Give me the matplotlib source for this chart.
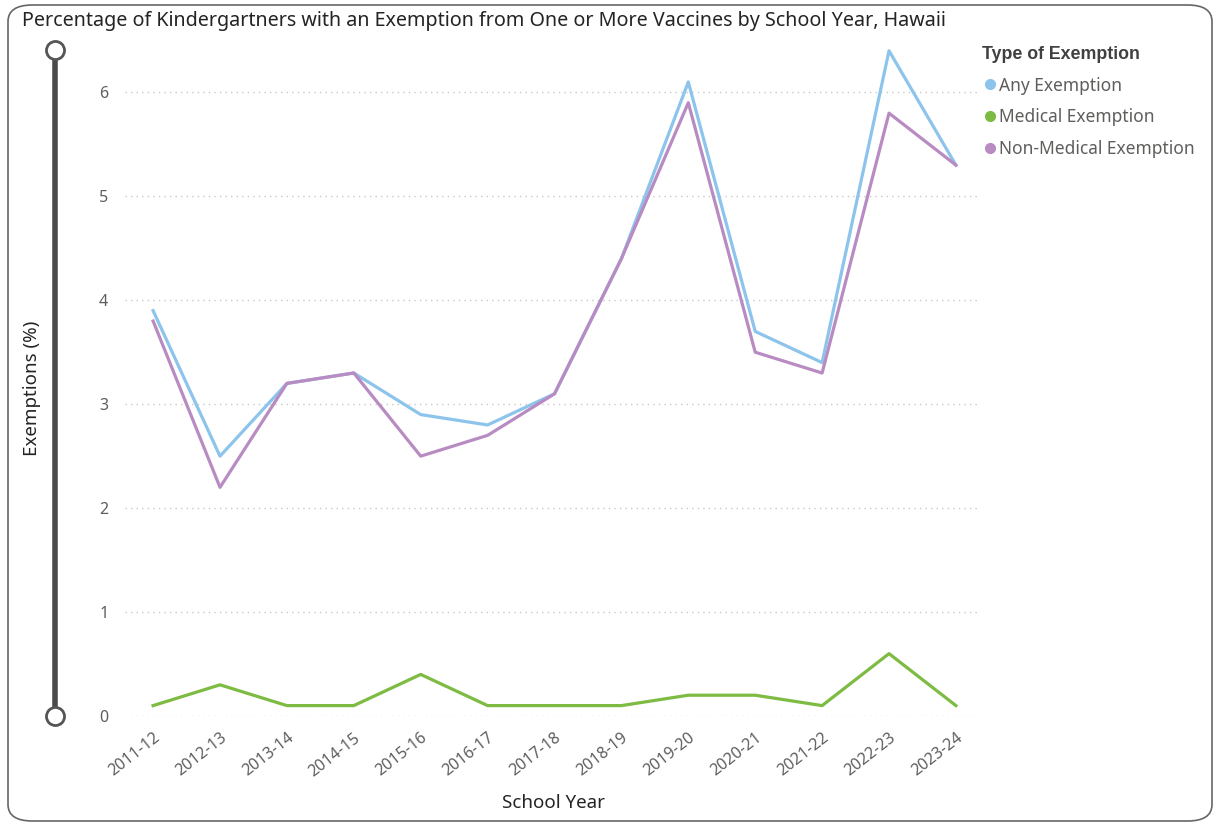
import matplotlib.pyplot as plt
from matplotlib.lines import Line2D
from matplotlib.patches import FancyBboxPatch

# School years and exemption rates (%)
years = ['2011-12', '2012-13', '2013-14', '2014-15', '2015-16', '2016-17', '2017-18',
         '2018-19', '2019-20', '2020-21', '2021-22', '2022-23', '2023-24']
any_exemption = [3.9, 2.5, 3.2, 3.3, 2.9, 2.8, 3.1, 4.4, 6.1, 3.7, 3.4, 6.4, 5.3]
medical = [0.1, 0.3, 0.1, 0.1, 0.4, 0.1, 0.1, 0.1, 0.2, 0.2, 0.1, 0.6, 0.1]
non_medical = [3.8, 2.2, 3.2, 3.3, 2.5, 2.7, 3.1, 4.4, 5.9, 3.5, 3.3, 5.8, 5.3]

series_names = ['Any Exemption', 'Medical Exemption', 'Non-Medical Exemption']
colors = ['#8CC4EC', '#7DBB42', '#B88BC2']

plt.rcParams['font.family'] = ['Noto Sans', 'DejaVu Sans']
text_gray = '#605E5C'

fig = plt.figure(figsize=(12.23, 8.24), dpi=100)
ax = fig.add_axes([125 / 1223, 108 / 824, 855 / 1223, 686 / 824])

x = list(range(len(years)))
ax.plot(x, any_exemption, color=colors[0], lw=2.3)
ax.plot(x, non_medical, color=colors[2], lw=2.3)
ax.plot(x, medical, color=colors[1], lw=2.3)

ax.set_xlim(-0.42, 12.36)
ax.set_ylim(0, 6.6)
ax.set_yticks([0, 1, 2, 3, 4, 5, 6])
ax.set_xticks(x)
ax.set_xticklabels(years, rotation=38, ha='right', rotation_mode='anchor')
ax.tick_params(axis='x', length=0, labelsize=11.5, colors=text_gray, pad=10)
ax.tick_params(axis='y', length=0, labelsize=11.5, colors=text_gray, pad=12)
ax.grid(axis='y', linestyle=(0, (1, 3)), color='#C8C8C8', lw=1)
ax.set_axisbelow(True)
for s in ax.spines.values():
    s.set_visible(False)

fig.text(553 / 1223, 1 - 803 / 824, 'School Year', fontsize=13.5, color='#252423',
         ha='center', va='center')
fig.text(32 / 1223, 1 - 388 / 824, 'Exemptions (%)', rotation=90, fontsize=13.5,
         color='#252423', ha='center', va='center')

fig.text(22 / 1223, 1 - 21 / 824,
         'Percentage of Kindergartners with an Exemption from One or More Vaccines by School Year, Hawaii',
         fontsize=14.2, color='#252423', ha='left', va='center')

# slider on the left
sx = 55 / 1223
fig.add_artist(Line2D([sx, sx], [1 - 50 / 824, 1 - 716 / 824], color='#4A4A4A', lw=4,
                      transform=fig.transFigure))
for py in [50, 716]:
    fig.add_artist(Line2D([sx], [1 - py / 824], marker='o', markersize=13,
                          markerfacecolor='white', markeredgecolor='#555555',
                          markeredgewidth=2, transform=fig.transFigure))

# legend
handles = [Line2D([], [], marker='o', linestyle='', color=c, markersize=7) for c in colors]
leg = fig.legend(handles, series_names, title='Type of Exemption',
                 loc='upper left', bbox_to_anchor=(966 / 1223, 1 - 30 / 824),
                 frameon=False, fontsize=12.5, handletextpad=0.0, handlelength=1.0,
                 labelspacing=0.8, alignment='left',
                 title_fontproperties={'family': ['Liberation Sans', 'DejaVu Sans'],
                                       'weight': 'bold', 'size': 12.8})
leg.get_title().set_color('#404040')
for t in leg.get_texts():
    t.set_color(text_gray)

# rounded border
fig.add_artist(FancyBboxPatch((8 / 1223, 3 / 824), 1204 / 1223, 816 / 824,
                              boxstyle='round,pad=0,rounding_size=0.02',
                              transform=fig.transFigure, fill=False,
                              edgecolor='#666666', lw=1.2))

fig.savefig('out.png', dpi=100)
